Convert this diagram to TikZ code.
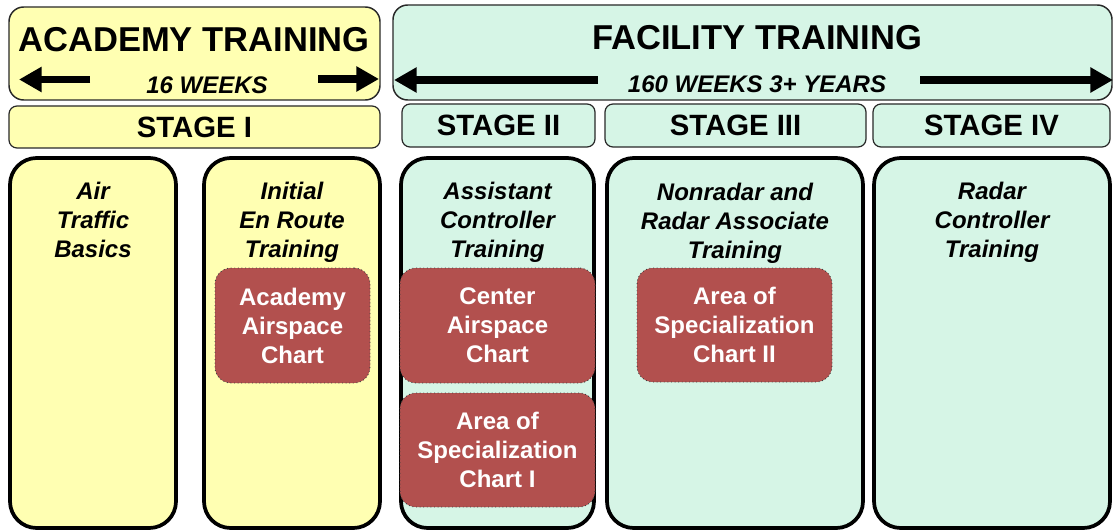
\documentclass[tikz,border=0pt]{standalone}
\usepackage{fontspec}
\setmainfont{Liberation Sans}
\usetikzlibrary{arrows.meta}
\definecolor{yel}{RGB}{255,255,178}
\definecolor{mint}{RGB}{214,245,230}
\definecolor{brick}{RGB}{178,80,78}
\definecolor{edgecol}{RGB}{40,40,40}
% \bx{name}{x1}{y1}{x2}{y2}{style}{text}
\newcommand\bx[7]{\node[#6, minimum width={(#4-#2)*0.75pt}, minimum height={(#5-#3)*0.75pt}] (#1) at ({(#2+#4)/2},{(#3+#5)/2}) {#7};}
\tikzset{
  hdr/.style={draw=edgecol, line width=1.1pt, rounded corners=11pt, inner sep=0pt},
  stagebox/.style={draw=edgecol, line width=0.9pt, rounded corners=6pt, inner sep=0pt,
    font=\fontsize{22}{26}\selectfont\bfseries},
  colbox/.style={draw=black, line width=2.8pt, rounded corners=20pt, inner sep=0pt},
  chartbox/.style={draw=black!75, line width=0.7pt, dotted, fill=brick, rounded corners=12pt,
    inner sep=0pt, text=white, align=center, font=\fontsize{18}{21.75}\selectfont\bfseries},
  bigtitle/.style={inner sep=0pt, font=\fontsize{25.9}{30}\selectfont\bfseries},
  weeks/.style={inner sep=0pt, font=\fontsize{18}{22}\selectfont\bfseries\itshape},
  coltitle/.style={inner sep=0pt, anchor=north, align=center,
    font=\fontsize{18}{21.75}\selectfont\bfseries\itshape},
  bigarrow/.style={line width=5.8pt, -{Triangle[length=17pt,width=18pt]}}
}
\begin{document}
\begin{tikzpicture}[x=0.75pt,y=-0.75pt]
\useasboundingbox (0,0) rectangle (1114,531);
% headers
\bx{acad}{9}{7}{380}{100}{hdr, fill=yel}{}
\bx{fac}{393}{5}{1112}{100}{hdr, fill=mint}{}
% stage bars
\bx{s1}{9}{106}{380}{148}{stagebox, fill=yel}{STAGE I}
\bx{s2}{402}{104}{595}{147}{stagebox, fill=mint}{STAGE II}
\bx{s3}{605}{104}{866}{147}{stagebox, fill=mint}{STAGE III}
\bx{s4}{873}{104}{1110}{147}{stagebox, fill=mint}{STAGE IV}
% columns
\bx{c1}{10}{158}{176}{528}{colbox, fill=yel}{}
\bx{c2}{204}{158}{380}{528}{colbox, fill=yel}{}
\bx{c3}{401}{158}{594}{528}{colbox, fill=mint}{}
\bx{c4}{607}{158}{863}{528}{colbox, fill=mint}{}
\bx{c5}{874}{158}{1110}{528}{colbox, fill=mint}{}
% charts
\bx{ch1}{215}{268}{370}{383}{chartbox}{Academy\\Airspace\\Chart}
\bx{ch2}{400}{268}{595}{383}{chartbox}{Center\\Airspace\\Chart}
\bx{ch3}{400}{393}{595}{507}{chartbox}{Area of\\Specialization\\Chart I}
\bx{ch4}{637}{268}{832}{382}{chartbox}{Area of\\Specialization\\Chart II}
% header texts
\node[bigtitle] (acadT) at (194,40) {ACADEMY TRAINING};
\node[weeks] (acadW) at (207,85) {16 WEEKS};
\node[bigtitle] (facT) at (757,38) {FACILITY TRAINING};
\node[weeks] (facW) at (757,84) {160 WEEKS 3+ YEARS};
% arrows
\coordinate (a1s) at (90,79.5);  \coordinate (a1e) at (19,79.5);
\coordinate (a2s) at (318,79); \coordinate (a2e) at (379,79);
\coordinate (a3s) at (598,80); \coordinate (a3e) at (394,80);
\coordinate (a4s) at (920,80); \coordinate (a4e) at (1113,80);
\draw[bigarrow] (a1s) -- (a1e);
\draw[bigarrow] (a2s) -- (a2e);
\draw[bigarrow] (a3s) -- (a3e);
\draw[bigarrow] (a4s) -- (a4e);
% column titles
\node[coltitle] (t1) at (93,182) {Air\\Traffic\\Basics};
\node[coltitle] (t2) at (292,182) {Initial\\En Route\\Training};
\node[coltitle] (t3) at (497.5,182) {Assistant\\Controller\\Training};
\node[coltitle] (t4) at (735,183) {Nonradar and\\Radar Associate\\Training};
\node[coltitle] (t5) at (992,182) {Radar\\Controller\\Training};
\end{tikzpicture}
\end{document}
